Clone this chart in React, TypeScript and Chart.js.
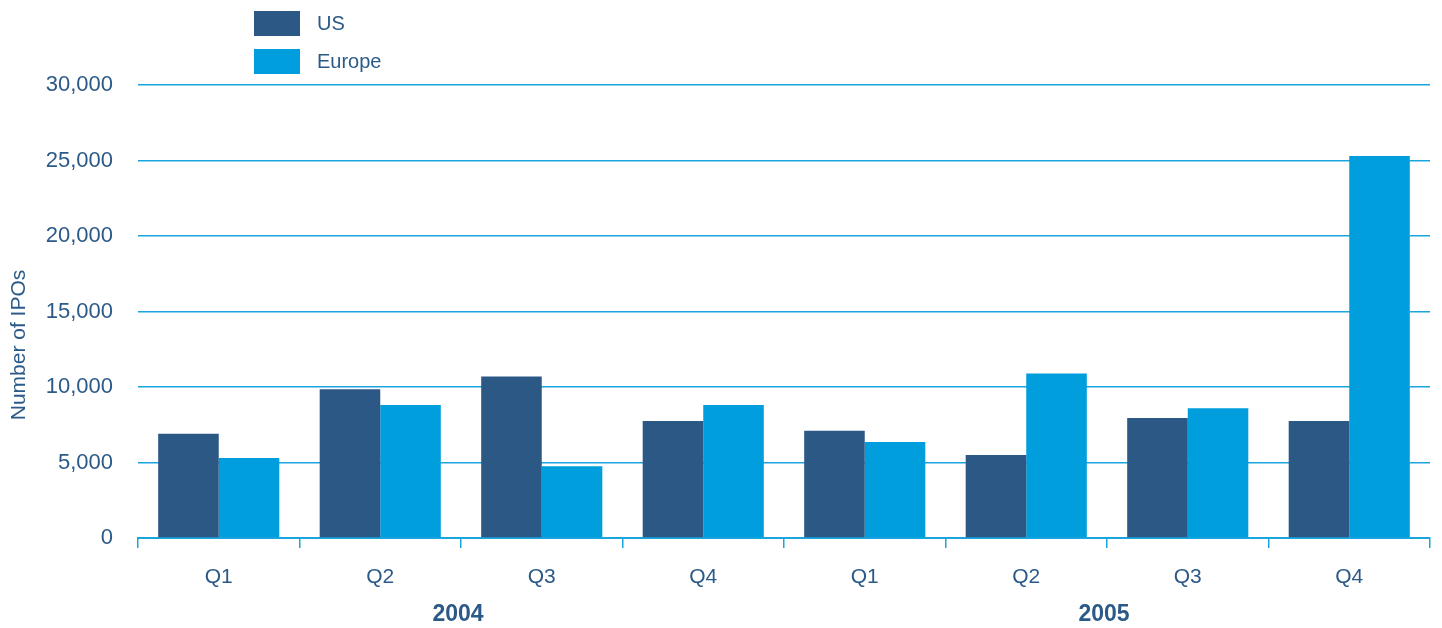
import React, { useEffect, useRef } from "react";
import { Chart, registerables } from "chart.js";

Chart.register(...registerables);

const categories = ["Q1", "Q2", "Q3", "Q4", "Q1", "Q2", "Q3", "Q4"];
const years = ["2004", "2005"];
const usValues = [6900, 9850, 10700, 7750, 7100, 5500, 7950, 7750];
const europeValues = [5300, 8800, 4750, 8800, 6350, 10900, 8600, 25300];
const seriesNames = ["US", "Europe"];
const yTitle = "Number of IPOs";

const FONT = "'Liberation Sans Narrow', 'Liberation Sans', Arial, sans-serif";
const TEXT = "#2c5a88";
const US_COLOR = "#2c5886";
const EU_COLOR = "#009edd";
const GRID = "#1aa5de";

const overlay = {
  id: "overlay",
  afterDraw(chart: any) {
    const ctx = chart.ctx;
    const x = chart.scales.x;
    ctx.save();
    // legend
    const colors = [US_COLOR, EU_COLOR];
    seriesNames.forEach((name, i) => {
      const top = 11 + i * 38;
      ctx.fillStyle = colors[i];
      ctx.fillRect(254, top, 46, 25);
      ctx.fillStyle = TEXT;
      ctx.font = `20px ${FONT}`;
      ctx.textAlign = "left";
      ctx.textBaseline = "middle";
      ctx.fillText(name, 317, top + 13);
    });
    // y title
    ctx.save();
    ctx.translate(19, 345);
    ctx.rotate(-Math.PI / 2);
    ctx.font = `21px ${FONT}`;
    ctx.fillStyle = TEXT;
    ctx.textAlign = "center";
    ctx.textBaseline = "middle";
    ctx.fillText(yTitle, 0, 0);
    ctx.restore();
    // year group labels
    ctx.font = `bold 23px ${FONT}`;
    ctx.fillStyle = TEXT;
    ctx.textAlign = "center";
    ctx.textBaseline = "middle";
    years.forEach((y, i) => {
      const first = x.getPixelForValue(i * 4);
      const last = x.getPixelForValue(i * 4 + 3);
      ctx.fillText(y, (first + last) / 2 - 3, 615);
    });
    ctx.restore();
  },
};

export default function App() {
  const ref = useRef<HTMLCanvasElement>(null);
  useEffect(() => {
    const chart = new Chart(ref.current!, {
      type: "bar",
      data: {
        labels: categories,
        datasets: [
          { label: seriesNames[0], data: usValues, backgroundColor: US_COLOR, categoryPercentage: 0.75, barPercentage: 1 },
          { label: seriesNames[1], data: europeValues, backgroundColor: EU_COLOR, categoryPercentage: 0.75, barPercentage: 1 },
        ],
      },
      options: {
        animation: false,
        responsive: true,
        maintainAspectRatio: false,
        layout: { padding: { top: 85, right: 12, left: 0, bottom: 0 } },
        plugins: { legend: { display: false }, tooltip: { enabled: false } },
        scales: {
          x: {
            grid: { drawOnChartArea: false, drawTicks: true, tickLength: 10, color: GRID, lineWidth: 1.5, offset: true },
            border: { color: GRID, width: 2 },
            ticks: { color: TEXT, font: { family: FONT, size: 21 }, padding: 17 },
            afterFit: (s: any) => { s.height = 90; },
          },
          y: {
            min: 0,
            max: 30000,
            ticks: {
              stepSize: 5000,
              color: TEXT,
              font: { family: FONT, size: 22 },
              padding: 25,
              callback: (v: any) => Number(v).toLocaleString("en-US"),
            },
            grid: { color: GRID, lineWidth: 1.5, drawTicks: false },
            border: { display: false },
            afterFit: (s: any) => { s.width = 138; },
          },
        },
      },
      plugins: [overlay],
    });
    return () => chart.destroy();
  }, []);
  return (
    <div style={{ position: "fixed", left: 0, top: 0, width: "1442px", height: "628px", background: "#fff" }}>
      <canvas ref={ref} />
    </div>
  );
}
